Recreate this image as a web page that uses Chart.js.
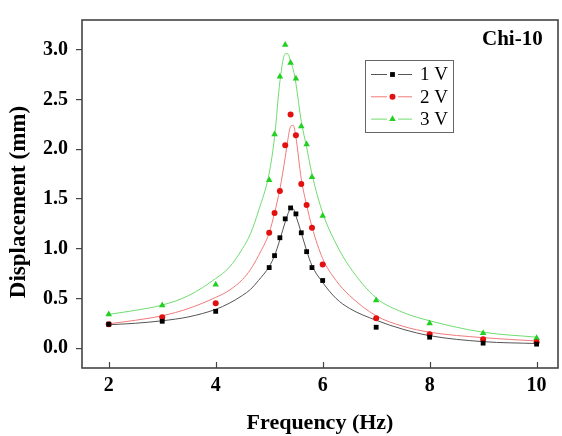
<!DOCTYPE html>
<html lang="en">
<head>
<meta charset="UTF-8">
<title>Chi-10 displacement vs frequency</title>
<script src="https://cdn.jsdelivr.net/npm/chart.js@4.4.1/dist/chart.umd.min.js"></script>
<style>
  html, body { margin: 0; padding: 0; background: #fff; }
  canvas { display: block; }
</style>
</head>
<body>
<canvas id="chart" width="562" height="436"></canvas>
<script>
const freqs  = [2, 3, 4, 5, 5.1, 5.2, 5.3, 5.4, 5.5, 5.6, 5.7, 5.8, 6, 7, 8, 9, 10];
const disp1V = [0.24, 0.27, 0.37, 0.81, 0.93, 1.11, 1.30, 1.41, 1.35, 1.16, 0.97, 0.81, 0.68, 0.21, 0.11, 0.05, 0.04];
const disp2V = [0.24, 0.31, 0.45, 1.16, 1.36, 1.58, 2.04, 2.35, 2.14, 1.65, 1.44, 1.21, 0.84, 0.30, 0.14, 0.09, 0.06];
const disp3V = [0.34, 0.43, 0.64, 1.69, 2.15, 2.73, 3.05, 2.87, 2.71, 2.23, 2.05, 1.72, 1.33, 0.48, 0.25, 0.15, 0.10];

// fitted curves, sampled from the figure
const fitFreqs = [2, 2.5, 3, 3.5, 4, 4.25, 4.5, 4.65, 4.8, 5, 5.1, 5.2, 5.3, 5.35, 5.4, 5.45, 5.5, 5.6, 5.7, 5.8, 6, 6.25, 6.5, 7, 7.5, 8, 9, 10];
const fit1V = [0.235, 0.25, 0.275, 0.315, 0.39, 0.45, 0.53, 0.59, 0.68, 0.82, 0.93, 1.09, 1.27, 1.35, 1.40, 1.40, 1.33, 1.16, 0.98, 0.83, 0.66, 0.50, 0.40, 0.28, 0.19, 0.125, 0.065, 0.046];
const fit2V = [0.245, 0.28, 0.325, 0.40, 0.51, 0.58, 0.69, 0.79, 0.93, 1.16, 1.36, 1.60, 1.92, 2.10, 2.23, 2.24, 2.12, 1.70, 1.44, 1.22, 0.90, 0.68, 0.53, 0.325, 0.22, 0.16, 0.105, 0.072];
const fit3V = [0.34, 0.38, 0.433, 0.53, 0.70, 0.81, 1.00, 1.15, 1.38, 1.76, 2.12, 2.68, 2.96, 2.96, 2.88, 2.80, 2.66, 2.28, 2.02, 1.75, 1.36, 1.05, 0.82, 0.505, 0.36, 0.275, 0.16, 0.11];

const seriesNames = ['1 V', '2 V', '3 V'];
const xTicks = [2, 4, 6, 8, 10];
const yTicks = [0, 0.5, 1, 1.5, 2, 2.5, 3];
const sampleLabel = 'Chi-10';
const yTitle = 'Displacement (mm)';

const markColors = ['#000000', '#e31010', '#22d022'];
const lineColors = ['#555555', '#f07a7a', '#70dc70'];
const pointStyles = ['rect', 'circle', 'triangle'];
const pointSizes = [3.4, 3, 3.8];

const serif = '"Liberation Serif", "Times New Roman", serif';

const toXY = (xs, ys) => xs.map((v, i) => ({x: v, y: ys[i]}));
const fits = [fit1V, fit2V, fit3V];
const meas = [disp1V, disp2V, disp3V];

const datasets = [];
fits.forEach((f, i) => datasets.push({
  label: seriesNames[i] + ' fit',
  data: toXY(fitFreqs, f),
  showLine: true,
  borderColor: lineColors[i],
  borderWidth: 1,
  pointRadius: 0,
  cubicInterpolationMode: 'monotone',
  order: 2
}));
meas.forEach((m, i) => datasets.push({
  label: seriesNames[i],
  data: toXY(freqs, m),
  showLine: false,
  pointStyle: pointStyles[i],
  pointRadius: pointSizes[i],
  backgroundColor: markColors[i],
  borderColor: markColors[i],
  borderWidth: 0,
  order: 1
}));

// frame, inward x ticks, y title, legend box and sample label
const decorations = {
  id: 'decorations',
  afterDraw(chart) {
    const {ctx, chartArea: a, scales: {x}} = chart;
    ctx.save();
    ctx.strokeStyle = '#444';
    ctx.lineWidth = 1.2;
    ctx.beginPath();
    xTicks.forEach(v => {
      const px = Math.round(x.getPixelForValue(v)) + 0.5;
      ctx.moveTo(px, a.bottom);
      ctx.lineTo(px, a.bottom - 6);
    });
    ctx.stroke();

    ctx.lineWidth = 1.6;
    ctx.strokeRect(a.left, a.top, a.right - a.left, a.bottom - a.top);

    // y axis title, sits a bit below the plot centre in the original
    ctx.save();
    ctx.translate(19, 202);
    ctx.rotate(-Math.PI / 2);
    ctx.fillStyle = '#000';
    ctx.font = 'bold 23px ' + serif;
    ctx.textAlign = 'center';
    ctx.textBaseline = 'middle';
    ctx.fillText(yTitle, 0, 0);
    ctx.restore();

    ctx.fillStyle = '#000';
    ctx.font = 'bold 21px ' + serif;
    ctx.textAlign = 'left';
    ctx.textBaseline = 'middle';
    ctx.fillText(sampleLabel, 482, 40);

    // legend
    ctx.strokeStyle = '#666';
    ctx.lineWidth = 1;
    ctx.strokeRect(365.5, 60.5, 88, 72);
    ctx.font = '19px ' + serif;
    seriesNames.forEach((name, i) => {
      const y = 74.5 + i * 22.3;
      ctx.strokeStyle = lineColors[i];
      ctx.lineWidth = 1;
      ctx.beginPath();
      ctx.moveTo(371, y); ctx.lineTo(387, y);
      ctx.moveTo(398, y); ctx.lineTo(412, y);
      ctx.stroke();
      ctx.fillStyle = markColors[i];
      ctx.strokeStyle = markColors[i];
      Chart.helpers.drawPoint(ctx, {pointStyle: pointStyles[i], radius: pointSizes[i], rotation: 0, borderWidth: 0}, 392.5, y);
      ctx.fillStyle = '#000';
      ctx.fillText(name, 420, y + 1);
    });
    ctx.restore();
  }
};

new Chart(document.getElementById('chart'), {
  type: 'scatter',
  data: {datasets},
  options: {
    responsive: false,
    animation: false,
    devicePixelRatio: 1,
    layout: {padding: {top: 13, right: 1, left: 0, bottom: 0}},
    plugins: {legend: {display: false}, tooltip: {enabled: false}},
    scales: {
      x: {
        type: 'linear',
        min: 1.5,
        max: 10.4,
        afterBuildTicks: s => { s.ticks = xTicks.map(v => ({value: v})); },
        afterFit: s => { s.height = 68; },
        grid: {display: false, drawTicks: false},
        border: {display: false},
        ticks: {color: '#000', font: {family: serif, size: 20, weight: 'bold'}, padding: 6},
        title: {display: true, text: 'Frequency (Hz)', color: '#000',
                font: {family: serif, size: 22, weight: 'bold', lineHeight: 1}, padding: {top: 0, bottom: 2}}
      },
      y: {
        type: 'linear',
        min: -0.2,
        max: 3.3,
        afterBuildTicks: s => { s.ticks = yTicks.map(v => ({value: v})); },
        afterFit: s => { s.width = 82; },
        grid: {display: true, drawOnChartArea: false, drawTicks: true, tickLength: 6, color: '#444', lineWidth: 1.2},
        border: {display: false},
        ticks: {color: '#000', font: {family: serif, size: 20, weight: 'bold'}, padding: 8,
                callback: v => v.toFixed(1)},
        title: {display: false}
      }
    }
  },
  plugins: [decorations]
});
</script>
</body>
</html>
